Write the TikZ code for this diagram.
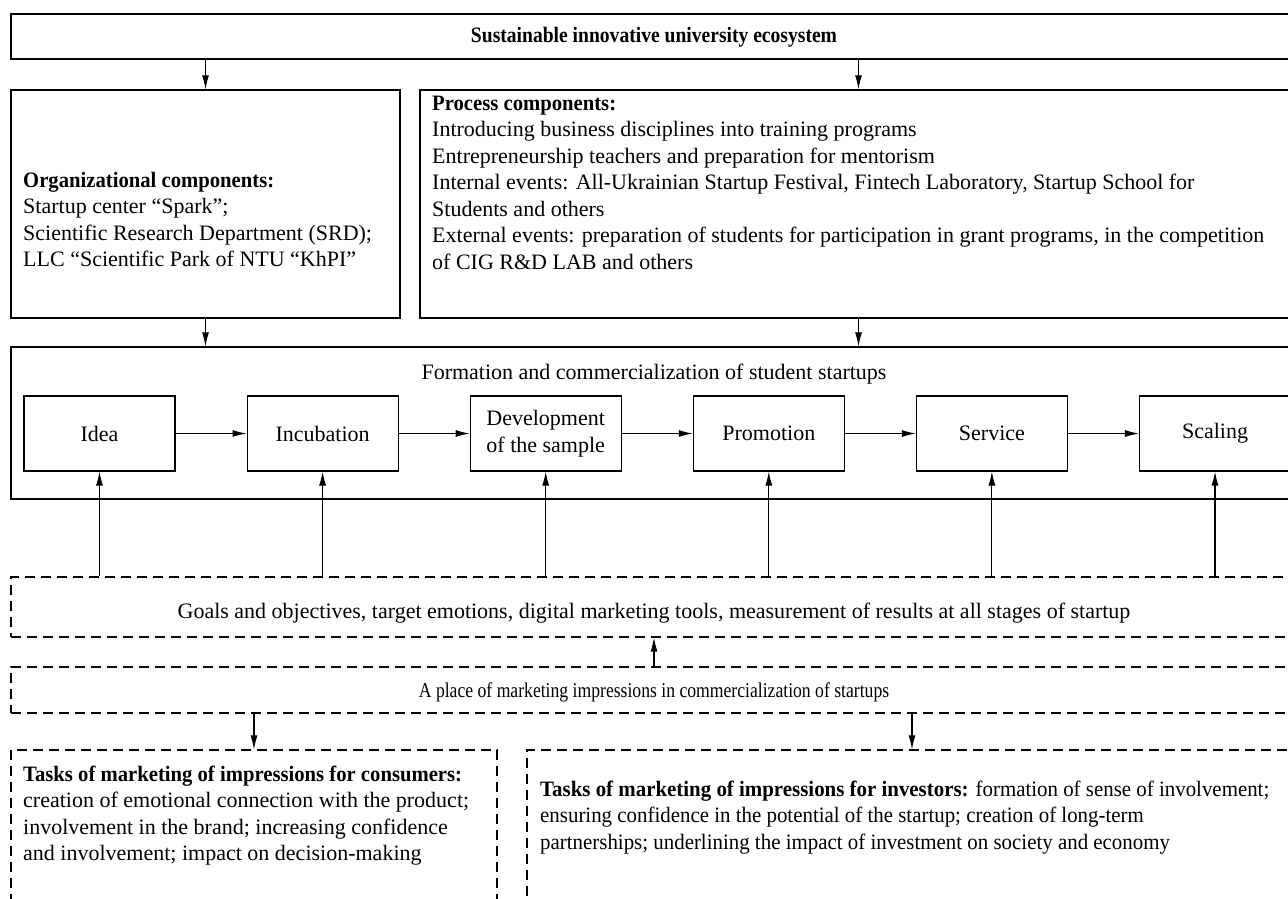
\documentclass[tikz,border=0pt]{standalone}
\usepackage{fontspec}
\setmainfont{Liberation Serif}
\newfontfamily\narrowfont[FakeStretch=0.89]{Liberation Serif}
\newfontfamily\slimfont[FakeStretch=0.84]{Liberation Serif}
\newfontfamily\investfont[FakeStretch=0.95]{Liberation Serif}
\newcommand\diagfont{\fontsize{22}{26.5}\selectfont}
\newcommand\headline[1]{{\bfseries\addfontfeatures{FakeStretch=0.94}#1}}
\usetikzlibrary{arrows.meta,chains,fit,positioning}
\tikzset{frame/.style={draw, line width=1.3pt, inner sep=0pt},
  dframe/.style={frame, dash pattern=on 10pt off 6pt},
  stage/.style={draw, line width=1.1pt, minimum width=151pt, minimum height=75pt, inner sep=2pt, align=center, on chain},
  txt/.style={inner sep=0pt, align=left, anchor=base west},
  ttl/.style={inner sep=0pt, anchor=base},
  arr/.style={-{Latex[length=14pt,width=7pt]}, line width=1.1pt}}

\begin{document}
\begin{tikzpicture}[x=1pt, y=-1pt, font=\diagfont]
    \path[use as bounding box, clip] (0,0) rectangle (1288,898);
    % upper part
    \node[frame, fit={(11,14) (1297,59)}] (eco) {};
    \node[ttl] (ecoT) at (654,42) {\narrowfont\bfseries Sustainable innovative university ecosystem};
    \node[frame, fit={(11,90) (400,318)}] (org) {};
    \node[frame, fit={(420,90) (1297,318)}] (proc) {};
    % multi-line texts: base = baseline of last line
    \node[txt] (orgT) at (23,266.5) {\headline{Organizational components:}\\Startup center “Spark”;\\Scientific Research Department (SRD);\\LLC “Scientific Park of NTU “KhPI”};
    \node[txt] (procT) at (432,269) {\headline{Process components:}\\Introducing business disciplines into training programs\\Entrepreneurship teachers and preparation for mentorism\\Internal events: All-Ukrainian Startup Festival, Fintech Laboratory, Startup School for\\Students and others\\External events: preparation of students for participation in grant programs, in the competition\\of CIG R\&D LAB and others};
    \node[frame, fit={(11,347) (1297,499)}] (form) {};
    \node[ttl] (formT) at (654,379) {Formation and commercialization of student startups};
    % stages
    \begin{scope}[start chain=going right, node distance=71pt]
    \node[stage] (idea) at (99.5,433.5) {Idea};
    \node[stage] (incub) {Incubation};
    \node[stage] (devel) {Development\\of the sample};
    \node[stage] (promo) {Promotion};
    \node[stage] (serv) {Service};
    \node[stage] (scale) {Scaling};
    \end{scope}
    % lower part
    \node[dframe, fit={(11,577) (1297,637)}] (goals) {};
    \node[ttl] (goalsT) at (654,618) {Goals and objectives, target emotions, digital marketing tools, measurement of results at all stages of startup};
    \node[dframe, fit={(11,667) (1297,713)}] (place) {};
    \node[ttl] (placeT) at (654,697) {\fontsize{21}{26.5}\slimfont A place of marketing impressions in commercialization of startups};
    \node[dframe, fit={(11,750) (497,930)}] (cons) {};
    \node[dframe, fit={(527,750) (1297,930)}] (inv) {};
    \node[txt] (consT) at (23,860.5) {\headline{Tasks of marketing of impressions for consumers:}\\creation of emotional connection with the product;\\involvement in the brand; increasing confidence\\and involvement; impact on decision-making};
    \node[txt, font=\diagfont\investfont] (invT) at (540,849) {\textbf{Tasks of marketing of impressions for investors:} formation of sense of involvement;\\ensuring confidence in the potential of the startup; creation of long-term\\partnerships; underlining the impact of investment on society and economy};
    % connectors
    \draw[arr] (eco.south -| org.north) -- (org.north);
    \draw[arr] (eco.south -| proc.north) -- (proc.north);
    \draw[arr] (org.south) -- (org.south |- form.north);
    \draw[arr] (proc.south) -- (proc.south |- form.north);
    \draw[arr] (idea) -- (incub);
    \draw[arr] (incub) -- (devel);
    \draw[arr] (devel) -- (promo);
    \draw[arr] (promo) -- (serv);
    \draw[arr] (serv) -- (scale);
    \foreach \s in {idea,incub,devel,promo,serv,scale}
        \draw[arr] (\s.south |- goals.north) -- (\s.south);
    \draw[arr] (place.north) -- (goals.south);
    \draw[arr] (place.south -| cons.north) -- (cons.north);
    \draw[arr] (place.south -| inv.north) -- (inv.north);
\end{tikzpicture}
\end{document}
